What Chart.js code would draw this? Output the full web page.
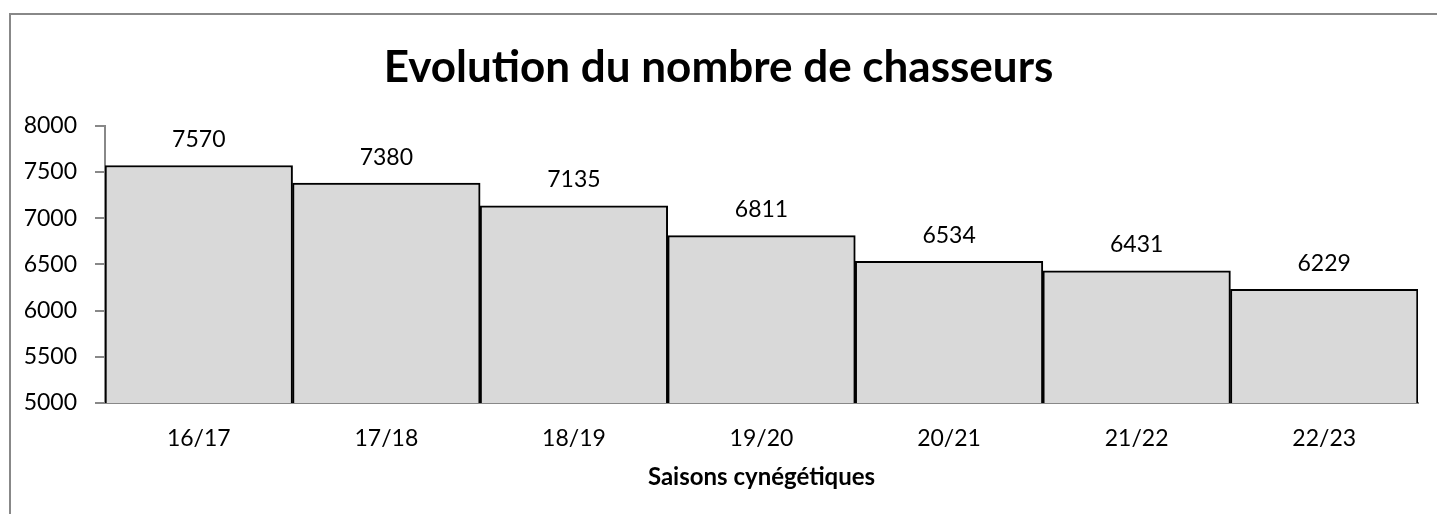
<!DOCTYPE html>
<html>
<head>
<meta charset="utf-8">
<script src="https://cdn.jsdelivr.net/npm/chart.js@4"></script>
<style>
  html, body { margin: 0; padding: 0; background: #fff; overflow: hidden; }
  #frame { position: absolute; left: 9px; top: 13px; width: 1440px; height: 520px; border: 2px solid #888; box-sizing: border-box; }
  #wrap { position: absolute; left: 0; top: 0; width: 1437px; height: 514px; }
</style>
</head>
<body>
<div id="frame"></div>
<div id="wrap"><canvas id="myChart" width="1437" height="514"></canvas></div>
<script>
// saisons et nombre de chasseurs
const seasons  = ['16/17', '17/18', '18/19', '19/20', '20/21', '21/22', '22/23'];
const hunters  = [7570, 7380, 7135, 6811, 6534, 6431, 6229];
const yTicks   = [5000, 5500, 6000, 6500, 7000, 7500, 8000];

const FONT = 'Lato, "Open Sans", sans-serif';

// valeurs au-dessus des barres
const valueLabels = {
  id: 'valueLabels',
  afterDatasetsDraw(chart) {
    const ctx = chart.ctx;
    const meta = chart.getDatasetMeta(0);
    ctx.save();
    ctx.font = '23px ' + FONT;
    ctx.fillStyle = '#000';
    ctx.textAlign = 'center';
    ctx.textBaseline = 'middle';
    meta.data.forEach((bar, i) => {
      ctx.fillText(hunters[i], bar.x, bar.y - 26);
    });
    ctx.restore();
  }
};

const ctx = document.getElementById('myChart').getContext('2d');
const chart = new Chart(ctx, {
  type: 'bar',
  data: {
    labels: seasons,
    datasets: [{
      data: hunters,
      backgroundColor: '#d9d9d9',
      borderColor: '#000',
      borderWidth: 2,
      borderSkipped: 'bottom',
      barPercentage: 1,
      categoryPercentage: 1
    }]
  },
  options: {
    responsive: false,
    animation: false,
    layout: { padding: { left: 19, right: 19, top: 0, bottom: 0 } },
    plugins: {
      legend: { display: false },
      tooltip: { enabled: false },
      title: {
        display: true,
        text: 'Evolution du nombre de chasseurs',
        color: '#000',
        font: { family: FONT, size: 44, weight: 'bold' },
        padding: { top: 41, bottom: 32 }
      }
    },
    scales: {
      x: {
        grid: { display: true, drawOnChartArea: false, drawTicks: false },
        border: { color: '#888', width: 2 },
        ticks: { color: '#000', font: { family: FONT, size: 23 }, padding: 22 },
        title: {
          display: true,
          text: 'Saisons cynégétiques',
          color: '#000',
          font: { family: FONT, size: 24, weight: 'bold' },
          padding: { top: 10, bottom: 22 }
        },
        afterFit(scale) { scale.height = 111; }
      },
      y: {
        min: 5000,
        max: 8000,
        afterBuildTicks(scale) { scale.ticks = yTicks.map(v => ({ value: v })); },
        grid: { display: true, drawOnChartArea: false, tickLength: 10, color: '#888', lineWidth: 2 },
        border: { color: '#888', width: 2 },
        ticks: {
          color: '#000',
          font: { family: FONT, size: 23 },
          padding: 18,
          callback: v => String(v)
        },
        afterFit(scale) { scale.width = 86; }
      }
    }
  },
  plugins: [valueLabels]
});
</script>
</body>
</html>
